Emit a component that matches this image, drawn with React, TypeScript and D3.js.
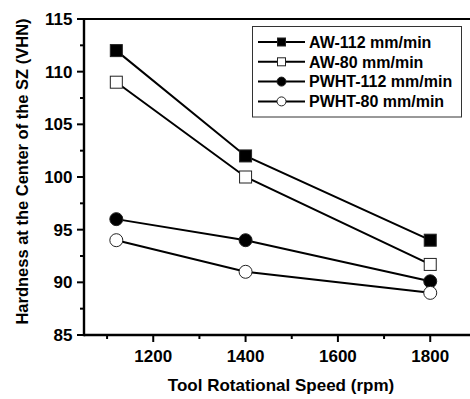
import React from "react";
import * as d3 from "d3";

const speeds = [1120, 1400, 1800];
const aw112 = [112, 102, 94];
const aw80 = [109, 100, 91.7];
const pwht112 = [96, 94, 90.1];
const pwht80 = [94, 91, 89];
const seriesNames = ["AW-112 mm/min", "AW-80 mm/min", "PWHT-112 mm/min", "PWHT-80 mm/min"];
const xTicks = [1200, 1400, 1600, 1800];
const yTicks = [85, 90, 95, 100, 105, 110, 115];

const W = 470, H = 399;
const FONT = "'Liberation Sans', Arial, sans-serif";

export default function App() {
  const x = d3.scaleLinear().domain([1050, 1900]).range([84, 476.4]);
  const y = d3.scaleLinear().domain([85, 115]).range([335, 19]);
  const line = d3.line<number>().x((_, i) => x(speeds[i])).y((v) => y(v));

  const series = [
    { name: seriesNames[0], vals: aw112, shape: "square", fill: "#000" },
    { name: seriesNames[1], vals: aw80, shape: "square", fill: "#fff" },
    { name: seriesNames[2], vals: pwht112, shape: "circle", fill: "#000" },
    { name: seriesNames[3], vals: pwht80, shape: "circle", fill: "#fff" },
  ];

  const marker = (shape: string, fill: string, cx: number, cy: number, s: number, key: any) =>
    shape === "square" ? (
      <rect key={key} x={cx - s / 2} y={cy - s / 2} width={s} height={s} fill={fill} stroke="#222" strokeWidth={1} />
    ) : (
      <circle key={key} cx={cx} cy={cy} r={s / 2} fill={fill} stroke="#222" strokeWidth={1} />
    );

  const yMinor = d3.range(85, 115.01, 2.5).filter((v) => v % 5 !== 0);
  const xMinor = d3.range(1100, 1901, 200);
  const [x0, x1] = x.range();
  const [yb, yt] = y.range();

  const legX = 252, legY = 26, legW = 209, legH = 90.5;
  const rowY = (i: number) => 42 + i * 19.8;

  return (
    <svg width={W} height={H} style={{ position: "absolute", left: 0, top: 0, background: "#fff" }} fontFamily={FONT}>
      {/* frame */}
      <line x1={x0} x2={x1} y1={yt} y2={yt} stroke="#000" strokeWidth={2.2} />
      <line x1={x0} x2={x1} y1={yb} y2={yb} stroke="#000" strokeWidth={2.4} />
      <line x1={x0} x2={x0} y1={yt - 1} y2={yb + 1.2} stroke="#000" strokeWidth={2.4} />
      {/* y ticks */}
      {yTicks.map((t) => (
        <g key={"yt" + t}>
          <line x1={x0 - 7} x2={x0} y1={y(t)} y2={y(t)} stroke="#000" strokeWidth={2} />
          <text x={72.5} y={y(t)} dy="0.35em" textAnchor="end" fontSize={17} fontWeight="bold">{t}</text>
        </g>
      ))}
      {yMinor.map((t) => (
        <line key={"ym" + t} x1={x0 - 4} x2={x0} y1={y(t)} y2={y(t)} stroke="#000" strokeWidth={2} />
      ))}
      {/* x ticks */}
      {xTicks.map((t) => (
        <g key={"xt" + t}>
          <line x1={x(t)} x2={x(t)} y1={yb} y2={yb + 7} stroke="#000" strokeWidth={2} />
          <text x={x(t)} y={362} textAnchor="middle" fontSize={17} fontWeight="bold">{t}</text>
        </g>
      ))}
      {xMinor.map((t) => (
        <line key={"xm" + t} x1={x(t)} x2={x(t)} y1={yb} y2={yb + 4} stroke="#000" strokeWidth={2} />
      ))}
      {/* axis titles */}
      <text x={281} y={391} textAnchor="middle" fontSize={17} fontWeight="bold">Tool Rotational Speed (rpm)</text>
      <text transform="translate(28,171.5) rotate(-90)" textAnchor="middle" fontSize={16.5} fontWeight="bold">
        Hardness at the Center of the SZ (VHN)
      </text>
      {/* series */}
      {series.map((s, si) => (
        <g key={"s" + si}>
          <path d={line(s.vals) || ""} fill="none" stroke="#000" strokeWidth={2} />
          {s.vals.map((v, i) => marker(s.shape, s.fill, x(speeds[i]), y(v), s.shape === "square" ? 12 : 13, i))}
        </g>
      ))}
      {/* legend */}
      <rect x={legX + 0.5} y={legY + 0.5} width={legW} height={legH} fill="#fff" stroke="#333" strokeWidth={1} />
      {series.map((s, i) => (
        <g key={"l" + i}>
          <line x1={258} x2={305} y1={rowY(i)} y2={rowY(i)} stroke="#000" strokeWidth={2} />
          {marker(s.shape, s.fill, 281.5, rowY(i), s.shape === "square" ? 8 : 9, "m")}
          <text x={309} y={rowY(i)} dy="0.36em" fontSize={16} fontWeight="bold">{s.name}</text>
        </g>
      ))}
    </svg>
  );
}
